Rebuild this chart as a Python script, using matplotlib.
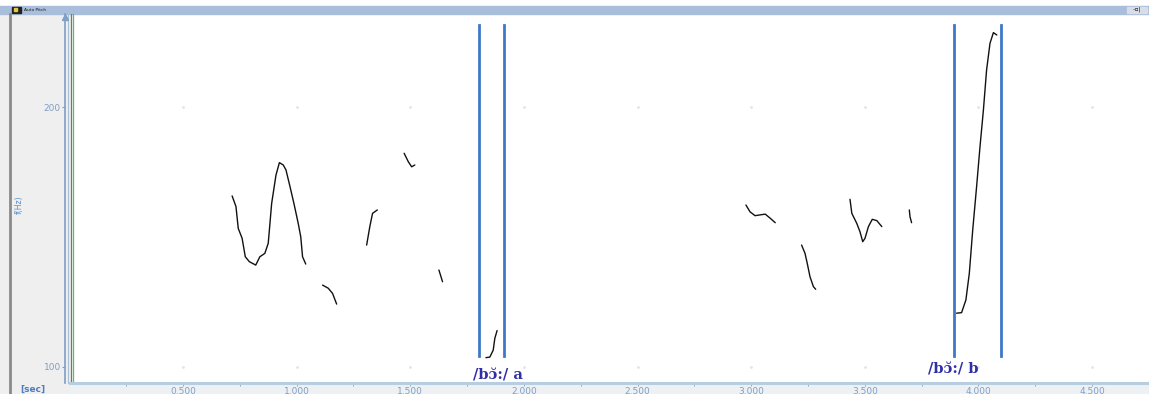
import matplotlib
matplotlib.use("Agg")
import matplotlib.pyplot as plt
from matplotlib.ticker import MultipleLocator, FormatStrFormatter

# ---------------- data (time in s, F0 in Hz) ----------------
seg1_t = [0.716, 0.733, 0.743, 0.760, 0.774, 0.792, 0.820, 0.838, 0.860, 0.875, 0.890,
          0.909, 0.924, 0.941, 0.953, 0.971, 0.988, 1.007, 1.018, 1.026, 1.040]
seg1_f = [165.8, 161.7, 153.3, 149.5, 142.4, 140.5, 139.2, 142.4, 143.7, 147.6, 162.9,
          173.8, 178.6, 177.7, 175.8, 169.3, 162.9, 155.2, 150.1, 142.4, 139.6]
seg2_t = [1.114, 1.139, 1.158, 1.176]
seg2_f = [131.5, 130.3, 128.3, 124.2]
seg3_t = [1.308, 1.322, 1.334, 1.355]
seg3_f = [146.9, 154.0, 159.1, 160.4]
seg4_t = [1.473, 1.491, 1.506, 1.520]
seg4_f = [182.2, 179.0, 177.0, 177.7]
seg5_t = [1.626, 1.642]
seg5_f = [137.3, 132.8]
seg6_t = [1.833, 1.850, 1.865, 1.872, 1.882]
seg6_f = [103.6, 103.8, 106.5, 111.0, 114.0]
seg7_t = [2.977, 2.995, 3.017, 3.039, 3.062, 3.084, 3.106]
seg7_f = [162.3, 159.7, 158.2, 158.5, 158.8, 157.2, 155.5]
seg8_t = [3.222, 3.237, 3.247, 3.259, 3.274, 3.284]
seg8_f = [146.9, 143.7, 139.8, 134.7, 130.9, 129.9]
seg9_t = [3.435, 3.443, 3.465, 3.479, 3.491, 3.501, 3.516, 3.533, 3.553, 3.575]
seg9_f = [164.5, 159.1, 155.2, 152.0, 148.2, 149.5, 154.0, 156.8, 156.3, 154.0]
seg10_t = [3.696, 3.699, 3.706]
seg10_f = [160.4, 157.8, 155.5]
seg11_t = [3.904, 3.926, 3.945, 3.960, 3.975, 3.992, 4.007, 4.022, 4.036, 4.051, 4.066, 4.081]
seg11_f = [120.7, 120.9, 125.8, 136.0, 152.7, 169.3, 184.7, 198.8, 214.2, 224.5, 228.6, 227.7]

segments_t = [seg1_t, seg2_t, seg3_t, seg4_t, seg5_t, seg6_t, seg7_t, seg8_t, seg9_t, seg10_t, seg11_t]
segments_f = [seg1_f, seg2_f, seg3_f, seg4_f, seg5_f, seg6_f, seg7_f, seg8_f, seg9_f, seg10_f, seg11_f]

boundary_times = [1.802, 1.912, 3.892, 4.099]
boundary_low = 104.4
boundary_high = 231.5

label_texts = ["/bɔ̆:/ a", "/bɔ̆:/ b"]
label_t = [1.776, 3.778]
label_f = [96.9, 99.2]

y_ticks = [100, 200]

# ---------------- figure ----------------
W, H = 1149, 394
fig = plt.figure(figsize=(W / 100, H / 100), dpi=100)
fig.patch.set_facecolor("white")

# main pitch axes (drawn first, transparent background)
px_t0, px_per_s = 69.4, 227.25
px_y100, px_per_hz = 367.0, 2.6
left_px, right_px, top_px, bot_px = 70, W, 14, 383
ax = fig.add_axes([left_px / W, (H - bot_px) / H, (right_px - left_px) / W, (bot_px - top_px) / H])
ax.patch.set_alpha(0)
ax.set_zorder(2)
ax.set_xlim((left_px - px_t0) / px_per_s, (right_px - px_t0) / px_per_s)
ax.set_ylim(100 - (bot_px - px_y100) / px_per_hz, 100 + (px_y100 - top_px) / px_per_hz)

# background / chrome overlay in pixel coordinates
bg = fig.add_axes([0, 0, 1, 1])
bg.set_zorder(1)
bg.set_xlim(0, W)
bg.set_ylim(H, 0)
bg.axis("off")
bg.add_patch(plt.Rectangle((0, 7), 70, H - 7, color="#efefef", zorder=0))
bg.add_patch(plt.Rectangle((70, 383), W - 70, 11, color="#eef1f4", zorder=0))
bg.add_patch(plt.Rectangle((0, 5.5), W, 8, color="#a9bedb", zorder=1))
bg.add_patch(plt.Rectangle((12, 6.5), 9, 6, color="#222222", zorder=2))
bg.add_patch(plt.Rectangle((14, 8), 3, 3, color="#e8c840", zorder=3))
bg.text(24, 9.5, "Auto Pitch", fontsize=3.2, color="#1a1a1a", va="center", ha="left", zorder=3)
bg.add_patch(plt.Rectangle((1127, 6.5), 20, 6, color="#d8dde6", zorder=2))
bg.text(1137, 9.5, "–▫|", fontsize=4, color="#111111", va="center", ha="center", zorder=3)
bg.plot([10, 10], [14, H], color="#8a8a8a", lw=2, zorder=2)
bg.plot([67.8, 67.8], [14, 383], color="#a9bdd6", lw=0.8, zorder=2)
bg.plot([70.5, 70.5], [14, 383], color="#4f8f4f", lw=0.9, zorder=2)
bg.plot([72.7, 72.7], [14, 383], color="#76ad76", lw=0.9, zorder=2)
bg.plot([65], [17], marker="^", ms=4, color="#7f9fc4", zorder=3)
bg.text(45, 389, "[sec]", fontsize=6.5, fontweight="bold", color="#4d7cc0",
        ha="right", va="center", zorder=3)
bg.text(19, 205, "f(Hz)", fontsize=5.5, color="#5a8fcf", rotation=90,
        ha="center", va="center", zorder=3)

for t, f in zip(segments_t, segments_f):
    ax.plot(t, f, color="#111111", lw=1.0, solid_capstyle="round")

for bt in boundary_times:
    ax.plot([bt, bt], [boundary_low, boundary_high], color="#3f78c8", lw=2.0)

for txt, t, f in zip(label_texts, label_t, label_f):
    ax.text(t, f, txt, fontsize=10.5, fontweight="bold", family="DejaVu Serif",
            color="#2f2fa6", ha="left", va="center", clip_on=False)

# faint grid dots
gx = [0.5 * i for i in range(1, 10)]
for yv in y_ticks:
    ax.plot(gx, [yv] * len(gx), ls="none", marker=".", ms=2, color="#e4e4e4")

for s in ["top", "right"]:
    ax.spines[s].set_visible(False)
ax.spines["left"].set_position(("outward", 3.6))
ax.spines["left"].set_color("#7f9fc4")
ax.spines["left"].set_linewidth(1.2)
ax.spines["bottom"].set_color("#b7cde0")
ax.spines["bottom"].set_linewidth(2.2)

ax.set_yticks(y_ticks)
ax.set_yticklabels([str(v) for v in y_ticks])
ax.tick_params(axis="y", direction="out", length=2, width=0.8, color="#7f9fc4",
               labelsize=6.5, labelcolor="#7f9fc4", pad=1)
ax.xaxis.set_major_locator(MultipleLocator(0.5))
ax.xaxis.set_minor_locator(MultipleLocator(0.25))
ax.xaxis.set_major_formatter(FormatStrFormatter("%.3f"))
ax.tick_params(axis="x", which="both", direction="out", length=2.5, width=0.7,
               color="#8fa8c4", labelsize=6.5, labelcolor="#7f9fc4", pad=0.5)

fig.savefig("out.png", dpi=100)
